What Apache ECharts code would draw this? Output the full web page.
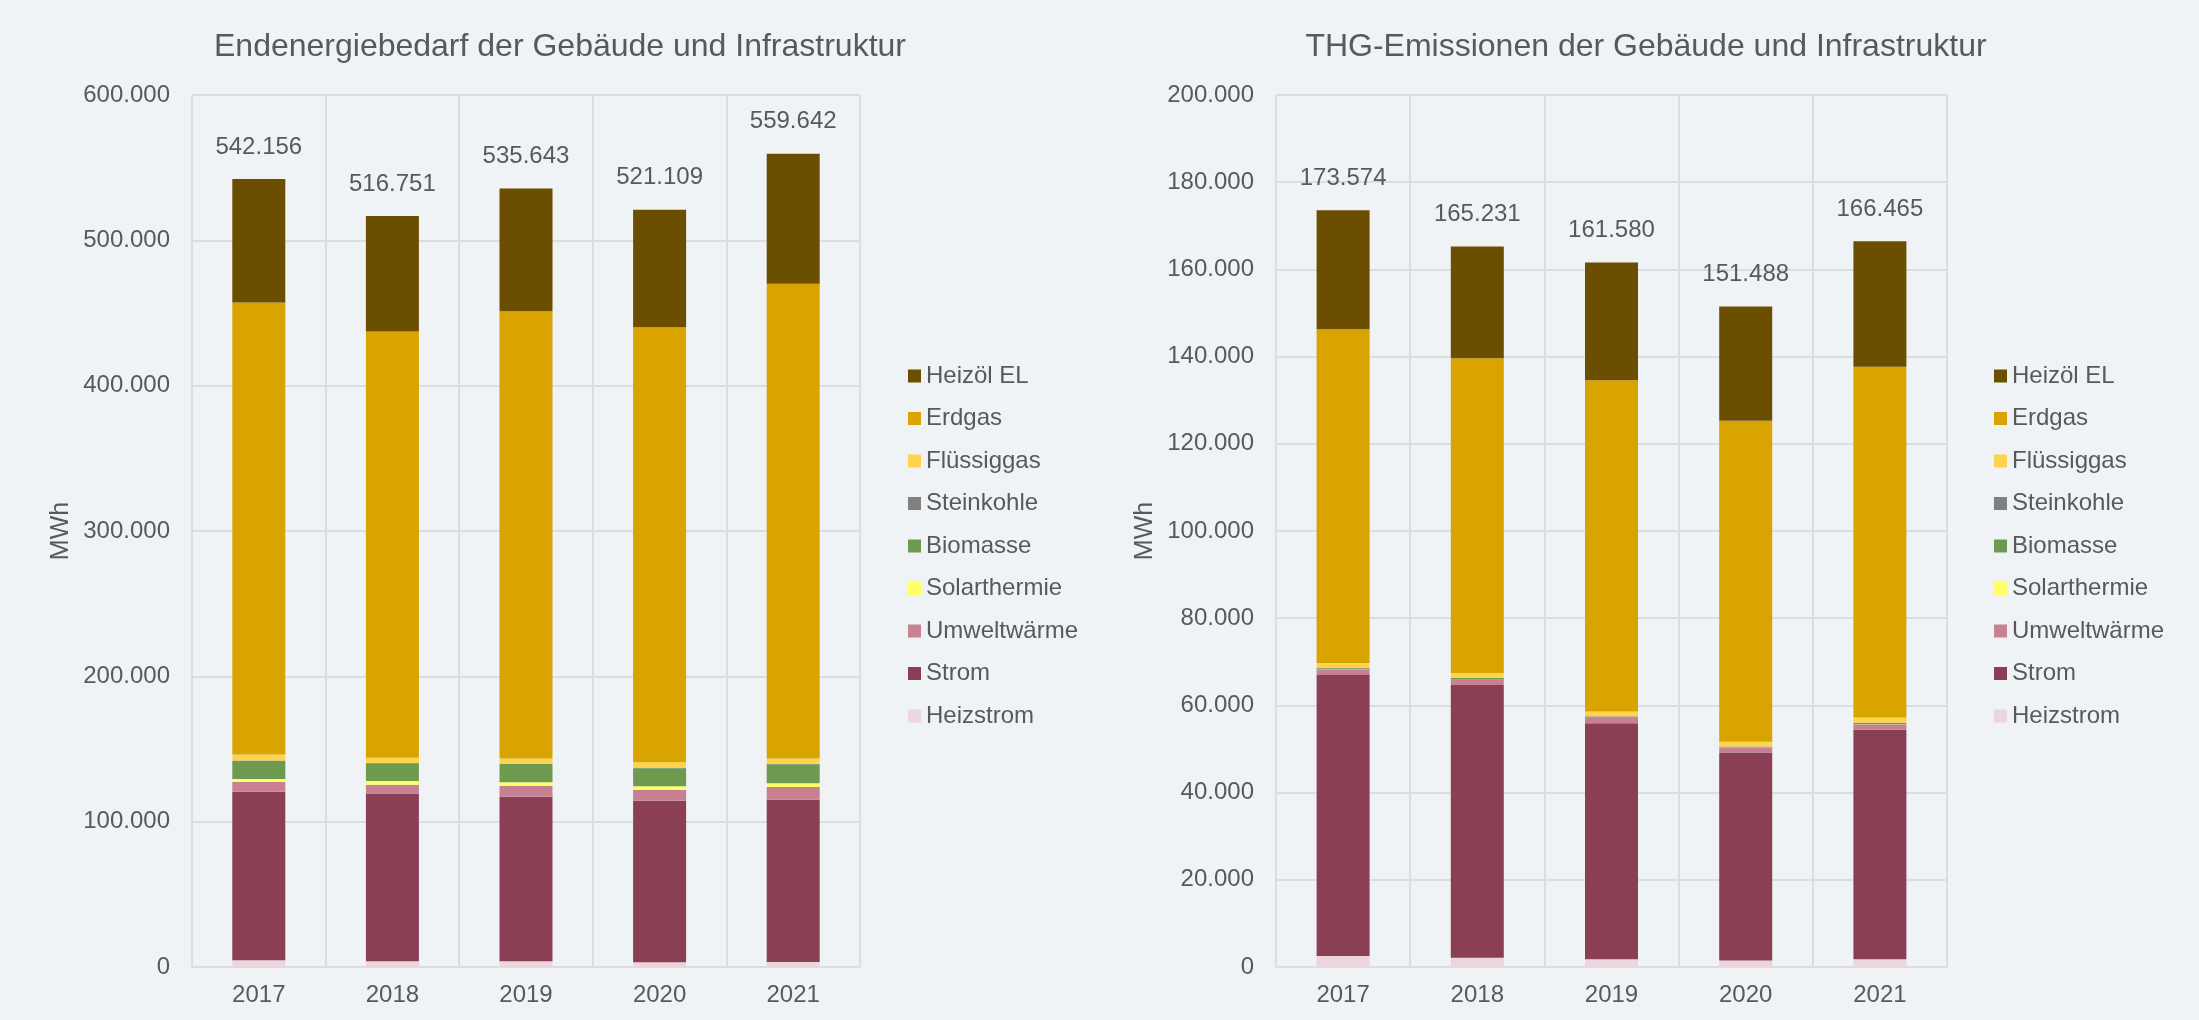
<!DOCTYPE html>
<html>
<head>
<meta charset="utf-8">
<title>Endenergiebedarf und THG-Emissionen</title>
<script src="https://cdn.jsdelivr.net/npm/echarts@6.0.0/dist/echarts.min.js"></script>
<style>
  html, body { margin: 0; padding: 0; background: #eff3f6; }
  #chart { width: 2199px; height: 1020px; }
</style>
</head>
<body>
<div id="chart"></div>
<script>
  // Jahre (Kategorien)
  var years = ["2017", "2018", "2019", "2020", "2021"];

  // Energieträger, Reihenfolge von unten nach oben im Stapel
  var carriers = ["Heizstrom", "Strom", "Umweltwärme", "Solarthermie", "Biomasse",
                  "Steinkohle", "Flüssiggas", "Erdgas", "Heizöl EL"];
  var colors = ["#ecd5dc", "#8b3f55", "#c88093", "#ffff66", "#6e9a50",
                "#808080", "#ffd34d", "#d9a300", "#6b4e00"];

  // Endenergiebedarf [MWh]
  var energyTotals = [542156, 516751, 535643, 521109, 559642];
  var energyHeizstrom = [4600, 3900, 3900, 3200, 3400];
  var energyStrom = [116000, 115400, 113300, 111200, 111700];
  var energyUmwelt = [6700, 6100, 7300, 7600, 8800];
  var energySolar = [2100, 2600, 2600, 2300, 2500];
  var energyBiomasse = [12500, 12200, 12600, 12400, 13100];
  var energySteinkohle = [200, 200, 200, 200, 200];
  var energyFluessig = [4200, 3600, 3600, 3900, 3800];
  var energyErdgas = [311000, 293200, 307700, 299400, 326700];
  var energyHeizoel = [84856, 79551, 84443, 80909, 89442];

  // THG-Emissionen
  var ghgTotals = [173574, 165231, 161580, 151488, 166465];
  var ghgHeizstrom = [2500, 2100, 1800, 1500, 1800];
  var ghgStrom = [64500, 62600, 54100, 47700, 52600];
  var ghgUmwelt = [1200, 1100, 1200, 1100, 1200];
  var ghgSolar = [50, 60, 60, 50, 60];
  var ghgBiomasse = [250, 400, 300, 150, 300];
  var ghgSteinkohle = [50, 50, 50, 50, 50];
  var ghgFluessig = [1200, 1100, 1100, 1100, 1200];
  var ghgErdgas = [76550, 72190, 75990, 73650, 80490];
  var ghgHeizoel = [27274, 25631, 26980, 26188, 28765];

  var energySeries = [energyHeizstrom, energyStrom, energyUmwelt, energySolar, energyBiomasse,
                      energySteinkohle, energyFluessig, energyErdgas, energyHeizoel];
  var ghgSeries = [ghgHeizstrom, ghgStrom, ghgUmwelt, ghgSolar, ghgBiomasse,
                   ghgSteinkohle, ghgFluessig, ghgErdgas, ghgHeizoel];

  var TEXT = "#595959";
  var GRID = "#dcdde0";
  var FONT = "'Liberation Sans', Arial, sans-serif";

  function fmt(v) {
    return String(Math.round(v)).replace(/\B(?=(\d{3})+(?!\d))/g, ".");
  }

  function buildSeries(list, totals, idx) {
    return list.map(function (values, i) {
      var s = {
        name: carriers[i],
        type: "bar",
        stack: "s" + idx,
        xAxisIndex: idx,
        yAxisIndex: idx,
        barWidth: 53,
        data: values,
        itemStyle: { color: colors[i] },
        emphasis: { disabled: true }
      };
      // Summe über dem obersten Segment
      if (i === list.length - 1) {
        s.label = {
          show: true,
          position: "top",
          distance: 20,
          fontSize: 24,
          color: TEXT,
          fontFamily: FONT,
          formatter: function (p) { return fmt(totals[p.dataIndex]); }
        };
      }
      return s;
    });
  }

  function xAxis(idx) {
    return {
      type: "category",
      gridIndex: idx,
      data: years,
      axisLine: { lineStyle: { color: GRID, width: 2 } },
      axisTick: { show: false },
      axisLabel: { color: TEXT, fontSize: 24, fontFamily: FONT, margin: 16 },
      splitLine: { show: true, lineStyle: { color: GRID, width: 2 } }
    };
  }

  function yAxis(idx, max, interval) {
    return {
      type: "value",
      gridIndex: idx,
      min: 0,
      max: max,
      interval: interval,
      name: "MWh",
      nameLocation: "middle",
      nameGap: 118,
      nameTextStyle: { color: TEXT, fontSize: 25, fontFamily: FONT },
      axisLine: { show: false },
      axisTick: { show: false },
      axisLabel: { color: TEXT, fontSize: 24, fontFamily: FONT, margin: 22, formatter: fmt },
      splitLine: { lineStyle: { color: GRID, width: 2 } }
    };
  }

  function legend(left) {
    return {
      orient: "vertical",
      left: left,
      top: 359,
      itemWidth: 13,
      itemHeight: 13,
      itemGap: 18.5,
      icon: "rect",
      selectedMode: false,
      data: carriers.slice().reverse(),
      textStyle: { color: TEXT, fontSize: 24, fontFamily: FONT }
    };
  }

  var chart = echarts.init(document.getElementById("chart"), null, { renderer: "canvas" });
  chart.setOption({
    backgroundColor: "#eff3f6",
    animation: false,
    title: [
      {
        text: "Endenergiebedarf der Gebäude und Infrastruktur",
        left: 555, top: 26, textAlign: "center",
        textStyle: { color: TEXT, fontSize: 32, fontWeight: "normal", fontFamily: FONT }
      },
      {
        text: "THG-Emissionen der Gebäude und Infrastruktur",
        left: 1641, top: 26, textAlign: "center",
        textStyle: { color: TEXT, fontSize: 32, fontWeight: "normal", fontFamily: FONT }
      }
    ],
    legend: [legend(903), legend(1989)],
    grid: [
      { left: 192, right: 1339, top: 95, bottom: 53 },
      { left: 1276, right: 252, top: 95, bottom: 53 }
    ],
    xAxis: [xAxis(0), xAxis(1)],
    yAxis: [yAxis(0, 600000, 100000), yAxis(1, 200000, 20000)],
    series: buildSeries(energySeries, energyTotals, 0).concat(buildSeries(ghgSeries, ghgTotals, 1))
  });
</script>
</body>
</html>
